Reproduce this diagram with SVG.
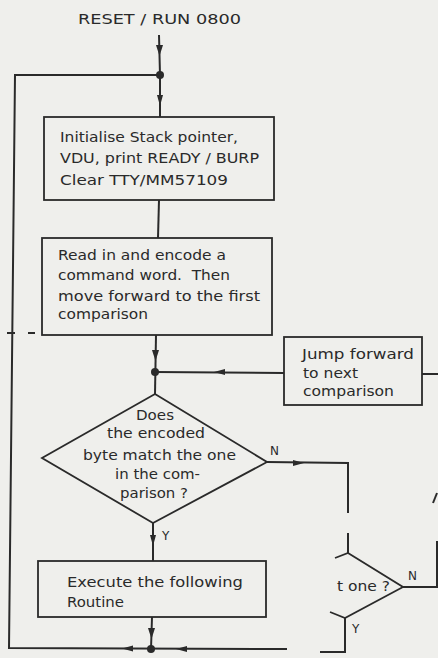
<svg xmlns="http://www.w3.org/2000/svg" width="438" height="658" viewBox="0 0 438 658">
<style>
.bg{fill:#efefec}
.box{fill:none;stroke:#2a2a2a;stroke-width:1.8}
.ln{fill:none;stroke:#2a2a2a;stroke-width:2}
.ah{fill:#2a2a2a;stroke:none}
.dot{fill:#2a2a2a}
text{font-family:"DejaVu Sans","Liberation Sans",sans-serif;font-size:13.5px;fill:#2a2a2a}
.sm{font-size:12px}
</style>
<rect class="bg" x="0" y="0" width="438" height="658"/>
<g id="title"><text x="78" y="24" textLength="163" lengthAdjust="spacingAndGlyphs">RESET / RUN 0800</text></g>
<g id="connectors">
<path class="ln" d="M159,35 L160,75 L160,117"/>
<path class="ln" d="M160,75 L15,75 L9,648 L287,649"/>
<path class="ln" d="M159,200 L158,238"/>
<path class="ln" d="M156,335 L155,394"/>
<path class="ln" d="M284,373 L155,372"/>
<path class="ln" d="M422,374 L438,374"/>
<path class="ln" d="M267,462 L348,463 L348,513"/>
<path class="ln" d="M348,533 L348,553"/>
<path class="ln" d="M153,523 L153,561"/>
<path class="ln" d="M152,617 L151,649"/>
<path class="ln" d="M320,652 L345,652 L345,618"/>
<path class="ln" d="M403,587 L437,587 L437,541"/>
<path class="ln" d="M433,503 L437,493" stroke-width="1.5"/>
<path class="ln" d="M7,333 L15,333 M28,333 L35,333" stroke-width="1.2"/>
<polygon class="ah" points="156,45 163,45 159.5,56"/>
<polygon class="ah" points="157,95 163,95 160,106"/>
<polygon class="ah" points="152,350 159,350 155.5,361"/>
<polygon class="ah" points="214,372 225,369 225,375"/>
<polygon class="ah" points="304,463 293,460 293,466"/>
<polygon class="ah" points="150,535 156,535 153,546"/>
<polygon class="ah" points="148,628 155,628 151.5,639"/>
<polygon class="ah" points="122,648.5 133,645.5 133,651.5"/>
<polygon class="ah" points="176,649 187,646 187,652"/>
<circle class="dot" cx="160" cy="75" r="4"/>
<circle class="dot" cx="155" cy="372" r="4"/>
<circle class="dot" cx="151" cy="649" r="4"/>
</g>
<g id="init">
<rect class="box" x="44" y="117" width="230" height="83"/>
<text x="60" y="142" textLength="178" lengthAdjust="spacingAndGlyphs">Initialise Stack pointer,</text>
<text x="60" y="163" textLength="199" lengthAdjust="spacingAndGlyphs">VDU, print READY / BURP</text>
<text x="60" y="185" textLength="168" lengthAdjust="spacingAndGlyphs">Clear TTY/MM57109</text>
</g>
<g id="read">
<rect class="box" x="42" y="238" width="230" height="97"/>
<text x="58" y="260" textLength="168" lengthAdjust="spacingAndGlyphs">Read in and encode a</text>
<text x="58" y="280" textLength="172" lengthAdjust="spacingAndGlyphs">command word.&#160; Then</text>
<text x="58" y="301" textLength="202" lengthAdjust="spacingAndGlyphs">move forward to the first</text>
<text x="58" y="319" textLength="90" lengthAdjust="spacingAndGlyphs">comparison</text>
</g>
<g id="jump">
<rect class="box" x="284" y="337" width="138" height="68"/>
<text x="302" y="359" textLength="112" lengthAdjust="spacingAndGlyphs">Jump forward</text>
<text x="303" y="378" textLength="55" lengthAdjust="spacingAndGlyphs">to next</text>
<text x="303" y="396" textLength="91" lengthAdjust="spacingAndGlyphs">comparison</text>
</g>
<g id="match">
<polygon class="box" points="155,394 267,462 153,523 42,458"/>
<text x="136" y="420" textLength="38" lengthAdjust="spacingAndGlyphs">Does</text>
<text x="107" y="438" textLength="98" lengthAdjust="spacingAndGlyphs">the encoded</text>
<text x="83" y="460" textLength="153" lengthAdjust="spacingAndGlyphs">byte match the one</text>
<text x="115" y="479" textLength="85" lengthAdjust="spacingAndGlyphs">in the com-</text>
<text x="120" y="498" textLength="68" lengthAdjust="spacingAndGlyphs">parison ?</text>
<text class="sm" x="270" y="455">N</text>
<text class="sm" x="162" y="540">Y</text>
</g>
<g id="execute">
<rect class="box" x="38" y="561" width="228" height="56"/>
<text x="67" y="587" textLength="176" lengthAdjust="spacingAndGlyphs">Execute the following</text>
<text x="67" y="607" textLength="57" lengthAdjust="spacingAndGlyphs">Routine</text>
</g>
<g id="next">
<path class="box" d="M335,558 L348,553 L403,587 L345,618 L330,612"/>
<text x="337" y="591" textLength="53" lengthAdjust="spacingAndGlyphs">t one ?</text>
<text class="sm" x="408" y="580">N</text>
<text class="sm" x="352" y="633">Y</text>
</g>
</svg>
